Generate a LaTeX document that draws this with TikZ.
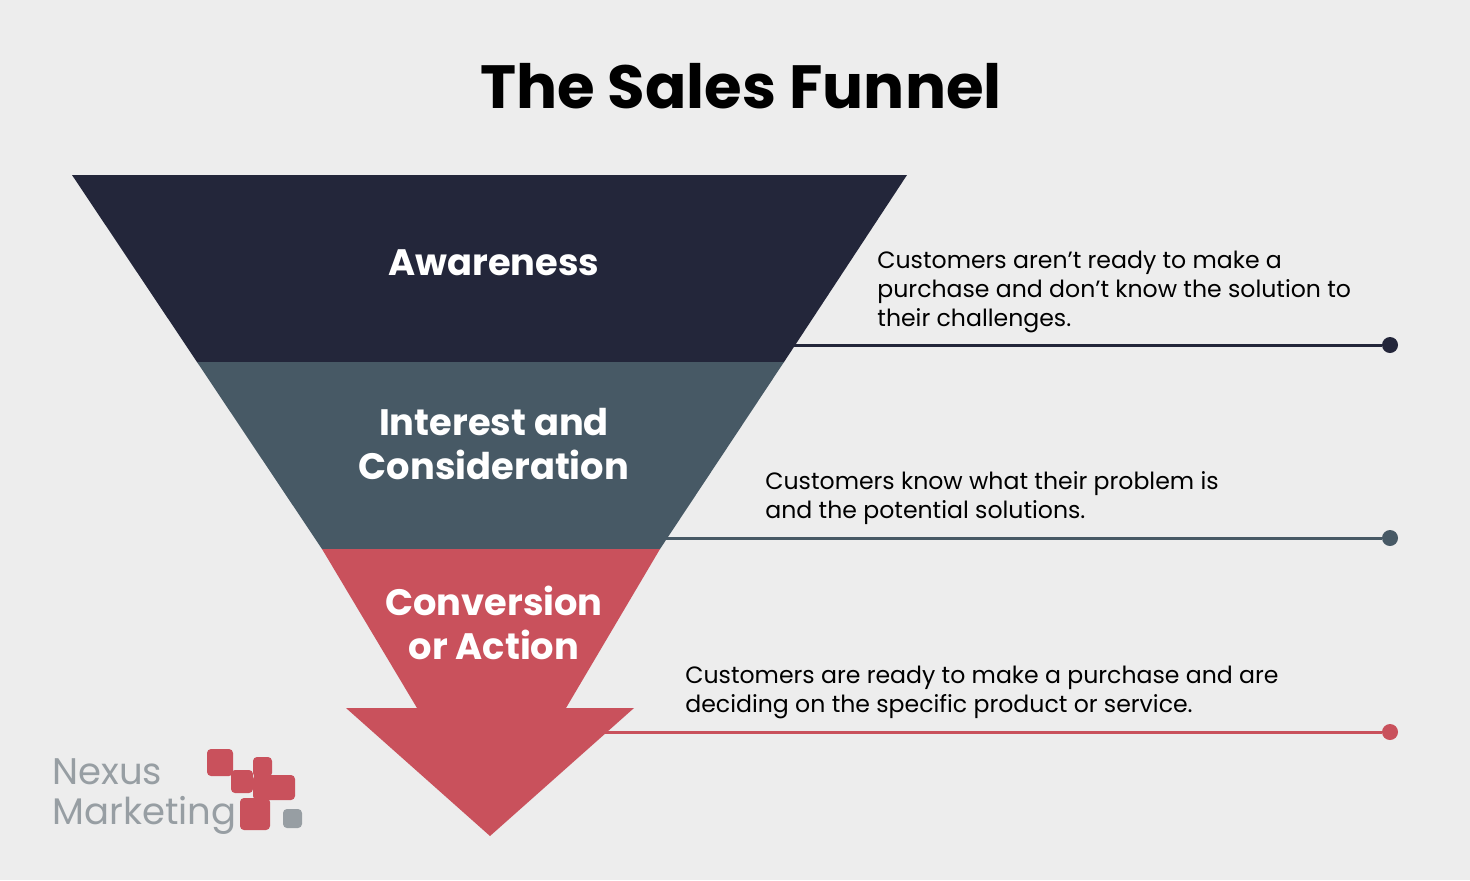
\documentclass[tikz,border=0pt]{standalone}
\usepackage{fontspec}
\setmainfont{Poppins}
\definecolor{bgGrey}{HTML}{EDEDED}
\definecolor{navy}{HTML}{23263A}
\definecolor{slate}{HTML}{475965}
\definecolor{rose}{HTML}{C9515C}
\definecolor{logoGrey}{HTML}{979EA3}
\tikzset{
  stage/.style={font=\bfseries\fontsize{18.4}{22}\selectfont, text=white, align=center},
  note/.style={anchor=north west, align=left, font=\fontsize{11.8}{14.5}\selectfont, inner sep=0pt},
  lead/.style={line width=1.5pt},
  tile/.style={fill=rose, rounded corners=2pt}
}
\begin{document}
\begin{tikzpicture}[x=0.5pt,y=-0.5pt]
  \fill[bgGrey] (0,0) rectangle (1470,880);
  \useasboundingbox (0,0) rectangle (1470,880);

  \node[font=\bfseries\fontsize{30.5}{36}\selectfont] (title) at (741,86) {The Sales Funnel};

  % funnel bands
  \fill[navy] (72,175) -- (907,175) -- (784,362) -- (197,362) -- cycle;
  \fill[slate] (197,362) -- (784,362) -- (660,549) -- (322,549) -- cycle;
  \fill[rose] (322,549) -- (660,549) -- (566,708) -- (634,708) -- (490,836)
    -- (346,708) -- (417,708) -- cycle;

  \node[stage] (aware) at (494,263) {Awareness};
  \node[stage] (interest) at (494,444) {Interest and\\Consideration};
  \node[stage] (convert) at (494,623) {Conversion\\or Action};

  % leader lines
  \coordinate (a1) at (793,345);
  \coordinate (b1) at (665,538);
  \coordinate (c1) at (605,732);
  \node[circle, fill=navy, inner sep=0pt, minimum size=8pt] (a2) at (1390,345) {};
  \node[circle, fill=slate, inner sep=0pt, minimum size=8pt] (b2) at (1390,538) {};
  \node[circle, fill=rose, inner sep=0pt, minimum size=8pt] (c2) at (1390,732) {};
  \draw[lead, navy] (a1) -- (a2);
  \draw[lead, slate] (b1) -- (b2);
  \draw[lead, rose] (c1) -- (c2);

  \node[note] (anote) at (877,251) {Customers aren’t ready to make a\\purchase and don’t know the solution to\\their challenges.};
  \node[note] (bnote) at (765,471) {Customers know what their problem is\\and the potential solutions.};
  \node[note] (cnote) at (685,666) {Customers are ready to make a purchase and are\\deciding on the specific product or service.};

  % logo
  \node[anchor=west, align=left, text=logoGrey, inner sep=0pt,
    font=\fontsize{18.5}{20}\selectfont] (logo) at (52,797) {Nexus\\Marketing};
  \fill[tile] (207,749) rectangle (233,776);
  \fill[tile] (231,770) rectangle (253,793);
  \fill[tile] (253,757) rectangle (272,777);
  \fill[tile] (253,775) rectangle (295,800);
  \fill[tile] (240,798) rectangle (270,830);
  \fill[logoGrey, rounded corners=2pt] (283,809) rectangle (302,828);
\end{tikzpicture}
\end{document}
